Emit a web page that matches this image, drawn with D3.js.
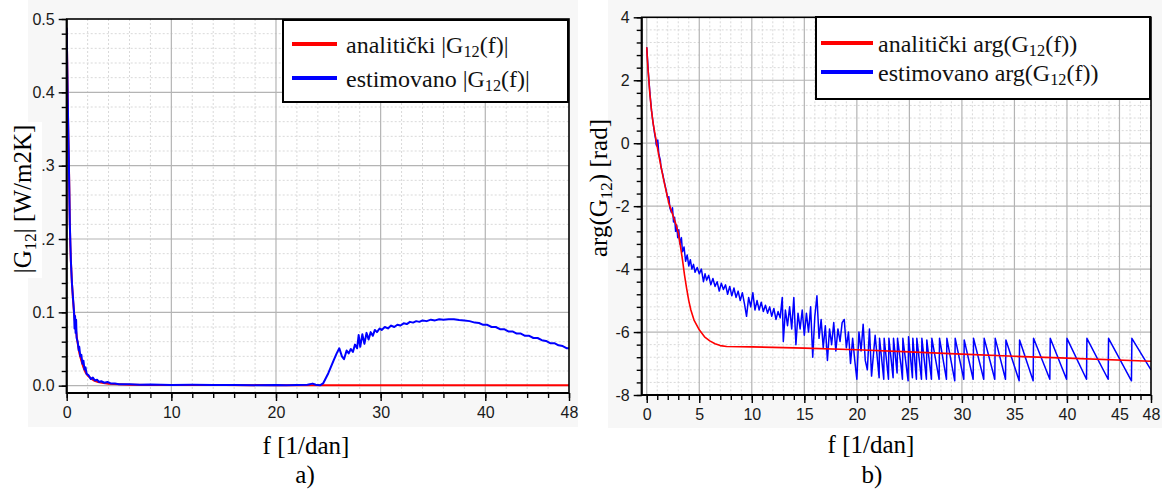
<!DOCTYPE html>
<html>
<head>
<meta charset="utf-8">
<script src="https://cdn.jsdelivr.net/npm/d3@7"></script>
<style>
  body { margin: 0; background: #ffffff; }
  svg { display: block; }
</style>
</head>
<body>
<svg id="chart" width="1162" height="490"></svg>
<script>
// ---------- panel a) : magnitude |G12(f)| ----------
const magAnalyticF = [0, 0.05, 0.1, 0.15, 0.2, 0.25, 0.3, 0.35, 0.4, 0.5, 0.6, 0.7, 0.85, 1.0, 1.2, 1.4, 1.6, 1.8, 2.0, 2.3, 2.6, 3.0, 3.5, 4, 5, 6, 8, 10, 15, 20, 25, 30, 40, 48];
const magAnalyticV = [0.488, 0.44, 0.39, 0.345, 0.31, 0.27, 0.22, 0.19, 0.17, 0.14, 0.118, 0.1, 0.08, 0.062, 0.045, 0.034, 0.025, 0.018, 0.014, 0.01, 0.007, 0.005, 0.0035, 0.0025, 0.0018, 0.0014, 0.001, 0.0009, 0.0008, 0.0007, 0.0007, 0.0007, 0.0007, 0.0007];

const magEstF = [0, 0.1, 0.2, 0.3, 0.4, 0.5, 0.6, 0.7, 0.75, 0.8, 0.85, 0.9, 0.95, 1.05, 1.15, 1.2, 1.3, 1.4, 1.5, 1.6, 1.7, 1.8, 1.9, 2.1, 2.3, 2.5, 2.7, 2.9, 3.1, 3.3, 3.6, 3.9, 4.2, 4.6, 5.0, 6, 7, 8, 10, 12, 14, 16, 18, 20, 21, 22, 23, 23.5, 23.8, 24.2, 24.5, 25.0, 25.5, 25.8, 26.05, 26.3, 26.5, 26.75, 26.95, 27.15, 27.35, 27.55, 27.75, 27.9, 28.05, 28.25, 28.45, 28.65, 28.85, 29.05, 29.25, 29.45, 29.65, 29.9, 30.1, 30.4, 30.7, 31.0, 31.3, 31.6, 31.9, 32.2, 32.5, 32.8, 33.1, 33.4, 33.7, 34.0, 34.4, 34.8, 35.2, 35.6, 36.0, 36.5, 37.0, 37.5, 38.0, 38.5, 39.0, 39.4, 39.8, 40.2, 40.6, 41.0, 41.4, 41.8, 42.2, 42.6, 43.0, 43.4, 43.8, 44.2, 44.6, 45.0, 45.4, 45.8, 46.2, 46.6, 47.0, 47.4, 47.8, 48];
const magEstV = [0.488, 0.39, 0.31, 0.22, 0.17, 0.14, 0.12, 0.1, 0.078, 0.095, 0.072, 0.09, 0.065, 0.06, 0.048, 0.053, 0.04, 0.042, 0.03, 0.034, 0.022, 0.025, 0.016, 0.014, 0.009, 0.011, 0.007, 0.008, 0.005, 0.006, 0.004, 0.005, 0.003, 0.003, 0.002, 0.0018, 0.0012, 0.0015, 0.001, 0.0012, 0.0008, 0.001, 0.0006, 0.0009, 0.0005, 0.001, 0.0012, 0.0028, 0.0012, 0.0005, 0.003, 0.017, 0.034, 0.044, 0.051, 0.04, 0.036, 0.048, 0.044, 0.05, 0.046, 0.056, 0.051, 0.069, 0.053, 0.07, 0.057, 0.072, 0.063, 0.073, 0.068, 0.076, 0.073, 0.078, 0.076, 0.08, 0.078, 0.082, 0.08, 0.083, 0.082, 0.085, 0.084, 0.087, 0.086, 0.088, 0.087, 0.089, 0.088, 0.09, 0.089, 0.0905, 0.09, 0.0905, 0.0905, 0.0895, 0.089, 0.088, 0.086, 0.0855, 0.083, 0.083, 0.08, 0.08, 0.077, 0.077, 0.074, 0.074, 0.071, 0.071, 0.068, 0.068, 0.065, 0.065, 0.062, 0.061, 0.058, 0.058, 0.055, 0.054, 0.051, 0.051];

const magXTicks = [0, 10, 20, 30, 40, 48];
const magXTickLabels = ["0", "10", "20", "30", "40", "48"];
const magYTicks = [0, 0.1, 0.2, 0.3, 0.4, 0.5];
const magYTickLabels = ["0.0", "0.1", "0.2", "0.3", "0.4", "0.5"];

// ---------- panel b) : phase arg(G12(f)) ----------
const phaseAnalyticF = [0, 0.1, 0.2, 0.3, 0.45, 0.6, 0.75, 0.9, 1.1, 1.3, 1.5, 1.7, 1.9, 2.1, 2.3, 2.6, 2.8, 3.0, 3.2, 3.4, 3.6, 3.8, 4.0, 4.2, 4.5, 5.0, 5.5, 6.0, 6.5, 7.0, 7.6, 10, 15, 20, 25, 30, 35, 40, 48];
const phaseAnalyticV = [3.05, 2.45, 2.0, 1.55, 1.05, 0.65, 0.35, 0.08, -0.3, -0.65, -0.98, -1.3, -1.6, -1.9, -2.1, -2.4, -2.6, -2.85, -3.25, -3.7, -4.2, -4.62, -5.0, -5.3, -5.62, -5.93, -6.15, -6.28, -6.37, -6.43, -6.46, -6.47, -6.51, -6.56, -6.63, -6.7, -6.77, -6.83, -6.93];

const phaseEstF = [0, 0.15, 0.3, 0.45, 0.6, 0.75, 0.85, 0.9, 1.0, 1.05, 1.15, 1.3, 1.35, 1.5, 1.65, 1.75, 1.85, 2.0, 2.1, 2.2, 2.35, 2.45, 2.55, 2.65, 2.75, 2.85, 2.95, 3.05, 3.15, 3.3, 3.4, 3.55, 3.7, 3.85, 4.0, 4.15, 4.3, 4.45, 4.6, 4.8, 5.0, 5.2, 5.4, 5.55, 5.7, 5.9, 6.1, 6.3, 6.5, 6.7, 6.9, 7.1, 7.3, 7.5, 7.7, 7.9, 8.1, 8.3, 8.5, 8.7, 8.9, 9.1, 9.3, 9.5, 9.7, 9.9, 10.1, 10.3, 10.5, 10.7, 10.9, 11.1, 11.3, 11.5, 11.7, 11.9, 12.1, 12.3, 12.5, 12.7, 12.9, 13.0, 13.2, 13.4, 13.6, 13.8, 14.0, 14.2, 14.4, 14.6, 14.8, 15.0, 15.2, 15.4, 15.6, 15.8, 16.0, 16.2, 16.4, 16.6, 16.8, 17.0, 17.2, 17.4, 17.6, 17.8, 18.0, 18.2, 18.4, 18.6, 18.8, 19.0, 19.2, 19.4, 19.6, 19.8, 20.0, 20.2, 20.4, 20.6, 20.8, 21.0, 21.2, 21.4,
  21.74, 22.12, 22.16, 22.56, 22.6, 23.01, 23.05, 23.45, 23.49, 23.83, 23.87, 24.2, 24.25, 24.34, 24.38, 24.88, 24.92, 25.29, 25.33, 25.67, 25.71, 26.15, 26.19, 26.62, 26.66, 27.1, 27.14, 27.83, 27.87, 28.53, 28.57, 29.32, 29.36, 30.18, 30.22, 31.07, 31.11, 32.08, 32.12, 33.13, 33.17, 34.15, 34.19, 35.45, 35.49, 36.78, 36.82, 38.37, 38.41, 39.96, 40.0, 41.86, 41.9, 43.92, 43.96, 46.14, 46.18, 48];
const phaseEstV = [3.05, 2.25, 1.6, 1.05, 0.65, 0.3, 0.12, -0.05, -0.1, 0.1, -0.35, -0.55, -0.75, -0.95, -1.2, -1.35, -1.5, -1.75, -1.7, -2.05, -2.2, -2.05, -2.5, -2.35, -2.8, -2.6, -3.0, -2.75, -3.2, -3.0, -3.45, -3.3, -3.75, -3.55, -3.9, -3.7, -4.0, -3.85, -4.1, -3.95, -4.15, -4.0, -4.4, -4.15, -4.35, -4.2, -4.5, -4.3, -4.55, -4.4, -4.7, -4.45, -4.65, -4.5, -4.8, -4.55, -4.85, -4.6, -4.9, -4.7, -5.0, -4.75, -5.1, -5.5, -4.9, -5.2, -4.75, -5.3, -5.0, -5.3, -5.05, -5.35, -5.15, -5.4, -5.2, -5.5, -5.25, -5.6, -5.35, -5.55, -4.9, -6.3, -5.3, -5.8, -5.2, -5.9, -4.9, -6.4, -5.4, -5.9, -5.3, -6.1, -5.4, -6.0, -5.2, -6.8, -5.5, -4.85, -6.2, -5.6, -6.5, -5.8, -6.9, -5.9, -6.4, -5.7, -6.6, -5.9, -6.3, -5.7, -5.6, -6.5, -6.0, -7.0, -6.2, -6.9, -7.5, -6.0, -6.6, -5.75, -6.9, -7.2, -5.9, -7.4,
  -6.1, -7.45, -6.2, -7.5, -6.2, -7.5, -6.2, -7.45, -6.2, -7.3, -6.2, -7.05, -7.2, -7.5, -6.2, -7.55, -6.15, -7.45, -6.2, -7.5, -6.2, -7.5, -6.2, -7.5, -6.25, -7.5, -6.2, -7.5, -6.2, -7.5, -6.2, -7.55, -6.2, -7.5, -6.25, -7.5, -6.2, -7.5, -6.2, -7.5, -6.2, -7.5, -6.25, -7.55, -6.25, -7.55, -6.2, -7.5, -6.2, -7.5, -6.2, -7.5, -6.2, -7.5, -6.2, -7.55, -6.2, -7.2];

const phaseXTicks = [0, 5, 10, 15, 20, 25, 30, 35, 40, 45, 48];
const phaseXTickLabels = ["0", "5", "10", "15", "20", "25", "30", "35", "40", "45", "48"];
const phaseYTicks = [-8, -6, -4, -2, 0, 2, 4];
const phaseYTickLabels = ["-8", "-6", "-4", "-2", "0", "2", "4"];

const RED = "#ff0000";
const BLUE = "#0000ff";
const SERIF = "'Liberation Serif', 'Times New Roman', serif";
const SANS = "'Liberation Sans', Arial, sans-serif";

const svg = d3.select("#chart");

// Writes text with a subscript run: parts = [[text, isSub], ...]
function richText(sel, parts, size) {
  parts.forEach(([t, sub], i) => {
    const prevSub = i > 0 && parts[i - 1][1];
    const ts = sel.append("tspan").text(t);
    if (sub) {
      ts.attr("font-size", size * 0.68).attr("dy", size * 0.2);
    } else if (prevSub) {
      ts.attr("dy", -size * 0.2);
    }
  });
}

function drawPanel(cfg) {
  const g = svg.append("g");

  // light backdrop around the plotting area
  g.append("rect")
    .attr("x", cfg.bg[0]).attr("y", cfg.bg[1])
    .attr("width", cfg.bg[2]).attr("height", cfg.bg[3])
    .attr("fill", "#f7f7f7");

  const x = d3.scaleLinear().domain(cfg.xDomain).range([cfg.left, cfg.right]);
  const y = d3.scaleLinear().domain(cfg.yDomain).range([cfg.bottom, cfg.top]);

  g.append("rect")
    .attr("x", cfg.left).attr("y", cfg.top)
    .attr("width", cfg.right - cfg.left).attr("height", cfg.bottom - cfg.top)
    .attr("fill", "#ffffff");

  const isMajor = (v, list) => list.some(m => Math.abs(m - v) < 1e-9);

  // minor grid (dashed)
  const grid = g.append("g");
  cfg.xMinor.filter(v => !isMajor(v, cfg.xTicks)).forEach(v => {
    grid.append("line")
      .attr("x1", x(v)).attr("x2", x(v)).attr("y1", cfg.top).attr("y2", cfg.bottom)
      .attr("stroke", "#d9d9d9").attr("stroke-width", 1).attr("stroke-dasharray", "2,2");
  });
  cfg.yMinor.filter(v => !isMajor(v, cfg.yTicks)).forEach(v => {
    grid.append("line")
      .attr("x1", cfg.left).attr("x2", cfg.right).attr("y1", y(v)).attr("y2", y(v))
      .attr("stroke", "#d9d9d9").attr("stroke-width", 1).attr("stroke-dasharray", "2,2");
  });
  // major grid (solid)
  cfg.xGrid.forEach(v => {
    grid.append("line")
      .attr("x1", x(v)).attr("x2", x(v)).attr("y1", cfg.top).attr("y2", cfg.bottom)
      .attr("stroke", "#b4b4b4").attr("stroke-width", 1.2);
  });
  cfg.yGrid.forEach(v => {
    grid.append("line")
      .attr("x1", cfg.left).attr("x2", cfg.right).attr("y1", y(v)).attr("y2", y(v))
      .attr("stroke", "#b4b4b4").attr("stroke-width", 1.2);
  });

  // curves
  const clipId = "clip" + cfg.id;
  g.append("clipPath").attr("id", clipId).append("rect")
    .attr("x", cfg.left).attr("y", cfg.top)
    .attr("width", cfg.right - cfg.left).attr("height", cfg.bottom - cfg.top);
  const line = d3.line().x(d => x(d[0])).y(d => y(d[1]));
  const curves = g.append("g").attr("clip-path", `url(#${clipId})`);
  cfg.series.forEach(s => {
    curves.append("path")
      .datum(d3.zip(s.f, s.v))
      .attr("d", line)
      .attr("fill", "none")
      .attr("stroke", s.color)
      .attr("stroke-width", s.width)
      .attr("stroke-linejoin", "round");
  });

  // frame
  g.append("rect")
    .attr("x", cfg.left).attr("y", cfg.top)
    .attr("width", cfg.right - cfg.left).attr("height", cfg.bottom - cfg.top)
    .attr("fill", "none").attr("stroke", "#000").attr("stroke-width", 1.6);

  // axes
  const styleAxis = a => {
    a.select(".domain").attr("stroke", "#000").attr("stroke-width", 2);
    a.selectAll(".tick line").attr("stroke", "#000").attr("stroke-width", 1.4);
    a.selectAll(".tick text").attr("fill", "#1a1a1a").attr("font-family", SANS).attr("font-size", 16);
  };

  const xMinorAxis = g.append("g").attr("transform", `translate(0,${cfg.bottom})`)
    .call(d3.axisBottom(x).tickValues(cfg.xMinor).tickSize(5).tickSizeOuter(0).tickFormat(""));
  styleAxis(xMinorAxis);
  xMinorAxis.select(".domain").attr("d", `M${cfg.left},0H${cfg.right}`);
  const xAxis = g.append("g").attr("transform", `translate(0,${cfg.bottom})`)
    .call(d3.axisBottom(x).tickValues(cfg.xTicks).tickSize(8).tickSizeOuter(0)
      .tickPadding(6).tickFormat((d, i) => cfg.xTickLabels[i]));
  styleAxis(xAxis);
  xAxis.select(".domain").remove();

  const yMinorAxis = g.append("g").attr("transform", `translate(${cfg.left},0)`)
    .call(d3.axisLeft(y).tickValues(cfg.yMinor).tickSize(5).tickSizeOuter(0).tickFormat(""));
  styleAxis(yMinorAxis);
  yMinorAxis.select(".domain").attr("d", `M0,${cfg.top}V${cfg.bottom + 1}`);
  const yAxis = g.append("g").attr("transform", `translate(${cfg.left},0)`)
    .call(d3.axisLeft(y).tickValues(cfg.yTicks).tickSize(8).tickSizeOuter(0)
      .tickPadding(4).tickFormat((d, i) => cfg.yTickLabels[i]));
  styleAxis(yAxis);
  yAxis.select(".domain").remove();

  // y-axis title (white plate behind it)
  if (cfg.yTitlePlate) {
    g.append("rect")
      .attr("x", cfg.yTitlePlate[0]).attr("y", cfg.yTitlePlate[1])
      .attr("width", cfg.yTitlePlate[2]).attr("height", cfg.yTitlePlate[3])
      .attr("fill", "#ffffff");
  }
  const yt = g.append("text")
    .attr("transform", `translate(${cfg.yTitlePos[0]},${cfg.yTitlePos[1]}) rotate(-90)`)
    .attr("text-anchor", "middle")
    .attr("font-family", SERIF).attr("font-size", 25).attr("fill", "#000");
  richText(yt, cfg.yTitle, 25);

  // x-axis title and panel letter
  g.append("text")
    .attr("x", cfg.xTitlePos[0]).attr("y", cfg.xTitlePos[1])
    .attr("text-anchor", "middle")
    .attr("font-family", SERIF).attr("font-size", 25).attr("fill", "#000")
    .text("f [1/dan]");
  g.append("text")
    .attr("x", cfg.letterPos[0]).attr("y", cfg.letterPos[1])
    .attr("text-anchor", "middle")
    .attr("font-family", SERIF).attr("font-size", 25).attr("fill", "#000")
    .text(cfg.letter);

  // legend
  const L = cfg.legend;
  const lg = g.append("g");
  lg.append("rect")
    .attr("x", L.x).attr("y", L.y).attr("width", L.w).attr("height", L.h)
    .attr("fill", "#ffffff").attr("stroke", "#000").attr("stroke-width", 2);
  L.items.forEach((it, i) => {
    const cy = L.y + L.firstRow + i * L.rowGap;
    lg.append("line")
      .attr("x1", L.x + L.lineX0).attr("x2", L.x + L.lineX1)
      .attr("y1", cy).attr("y2", cy)
      .attr("stroke", it.color).attr("stroke-width", 4);
    const t = lg.append("text")
      .attr("x", L.x + L.textX).attr("y", cy + 8.5)
      .attr("font-family", SERIF).attr("font-size", 24).attr("fill", "#111");
    richText(t, it.label, 24);
  });
}

drawPanel({
  id: "a",
  bg: [28, 0, 550, 427],
  left: 66.7, right: 569, top: 19, bottom: 393,
  xDomain: [0, 48], yDomain: [-0.01, 0.5],
  xTicks: magXTicks, xTickLabels: magXTickLabels,
  yTicks: magYTicks, yTickLabels: magYTickLabels,
  xMinor: d3.range(0, 48.01, 2),
  yMinor: d3.range(0, 0.5001, 0.02).map(v => +v.toFixed(2)),
  xGrid: [10, 20, 30, 40],
  yGrid: [0, 0.1, 0.2, 0.3, 0.4],
  series: [
    { f: magAnalyticF, v: magAnalyticV, color: RED, width: 2 },
    { f: magEstF, v: magEstV, color: BLUE, width: 2 }
  ],
  yTitle: [["|G", false], ["12", true], ["| [W/m2K]", false]],
  yTitlePos: [31, 199],
  yTitlePlate: [0, 122, 42, 156],
  xTitlePos: [306, 454],
  letter: "a)",
  letterPos: [305, 483],
  legend: {
    x: 283, y: 20, w: 285, h: 82, firstRow: 24, rowGap: 34,
    lineX0: 9, lineX1: 54, textX: 63,
    items: [
      { color: RED, label: [["analitički |G", false], ["12", true], ["(f)|", false]] },
      { color: BLUE, label: [["estimovano |G", false], ["12", true], ["(f)|", false]] }
    ]
  }
});

drawPanel({
  id: "b",
  bg: [608, 0, 554, 428],
  left: 641.7, right: 1151, top: 17.3, bottom: 395,
  xDomain: [-0.48, 48], yDomain: [-8, 4],
  xTicks: phaseXTicks, xTickLabels: phaseXTickLabels,
  yTicks: phaseYTicks, yTickLabels: phaseYTickLabels,
  xMinor: d3.range(0, 48.01, 1),
  yMinor: d3.range(-8, 4.001, 0.4).map(v => +v.toFixed(1)),
  xGrid: [0, 5, 10, 15, 20, 25, 30, 35, 40, 45],
  yGrid: [-6, -4, -2, 0, 2],
  series: [
    { f: phaseEstF, v: phaseEstV, color: BLUE, width: 1.5 },
    { f: phaseAnalyticF, v: phaseAnalyticV, color: RED, width: 1.6 }
  ],
  yTitle: [["arg(G", false], ["12", true], [") [rad]", false]],
  yTitlePos: [607, 188],
  yTitlePlate: null,
  xTitlePos: [871, 453],
  letter: "b)",
  letterPos: [872, 483],
  legend: {
    x: 816, y: 17, w: 334, h: 82, firstRow: 26, rowGap: 29,
    lineX0: 5, lineX1: 57, textX: 62,
    items: [
      { color: RED, label: [["analitički arg(G", false], ["12", true], ["(f))", false]] },
      { color: BLUE, label: [["estimovano arg(G", false], ["12", true], ["(f))", false]] }
    ]
  }
});
</script>
</body>
</html>
